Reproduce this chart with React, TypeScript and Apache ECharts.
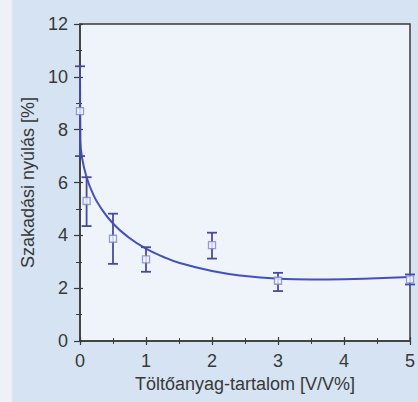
import React, { useEffect, useRef } from "react";
import * as echarts from "echarts";

const xTicks = [0, 1, 2, 3, 4, 5];
const yTicks = [0, 2, 4, 6, 8, 10, 12];

// measured points: x, mean, low, high
const pointX = [0, 0.1, 0.5, 1, 2, 3, 5];
const pointMean = [8.7, 5.3, 3.87, 3.09, 3.63, 2.28, 2.33];
const pointLow = [7.0, 4.35, 2.92, 2.62, 3.12, 1.89, 2.14];
const pointHigh = [10.4, 6.2, 4.82, 3.55, 4.1, 2.58, 2.52];

// fitted curve
const curveX = [0, 0.006, 0.03, 0.1, 0.2, 0.3, 0.5, 0.75, 1.0, 1.25, 1.5, 2.0, 2.5, 3.0, 3.5, 4.0, 4.5, 5.0];
const curveY = [10.0, 7.6, 6.95, 6.2, 5.55, 5.1, 4.45, 3.9, 3.5, 3.2, 2.96, 2.65, 2.46, 2.36, 2.33, 2.34, 2.38, 2.42];

const FONT = "'Liberation Sans', Arial, sans-serif";

export default function App() {
  const ref = useRef<HTMLDivElement>(null);
  useEffect(() => {
    if (!ref.current) return;
    const chart = echarts.init(ref.current, undefined, { renderer: "svg" });
    const axisColor = "#3a3a3a";
    const labelStyle = { fontSize: 18, color: "#383838", fontFamily: FONT };
    const errData = pointX.map((x, i) => [x, pointLow[i], pointHigh[i]]);
    chart.setOption({
      animation: false,
      backgroundColor: "transparent",
      grid: {
        left: 80,
        top: 24,
        width: 331,
        height: 317,
        show: true,
        backgroundColor: "#eff3fa",
        borderColor: axisColor,
        borderWidth: 1.5,
      },
      xAxis: [
        {
          type: "value",
          min: xTicks[0],
          max: xTicks[xTicks.length - 1],
          interval: 1,
          name: "Töltőanyag-tartalom [V/V%]",
          nameLocation: "middle",
          nameGap: 34,
          nameTextStyle: labelStyle,
          axisLine: { lineStyle: { color: axisColor, width: 1.5 } },
          axisTick: { inside: false, length: 4, lineStyle: { color: axisColor, width: 1.2 } },
          minorTick: { show: true, splitNumber: 2, length: 3, lineStyle: { color: axisColor } },
          axisLabel: { ...labelStyle, margin: 11 },
          splitLine: { show: false },
        },
        {
          type: "value",
          min: xTicks[0],
          max: xTicks[xTicks.length - 1],
          interval: 1,
          position: "bottom",
          axisLine: { show: false },
          axisTick: { inside: true, length: 4, lineStyle: { color: axisColor, width: 1.2 } },
          minorTick: { show: true, splitNumber: 2, length: 3, lineStyle: { color: axisColor } },
          axisLabel: { show: false },
          splitLine: { show: false },
        },
      ],
      yAxis: [
        {
          type: "value",
          min: yTicks[0],
          max: yTicks[yTicks.length - 1],
          interval: 2,
          name: "Szakadási nyúlás [%]",
          nameLocation: "middle",
          nameGap: 41,
          nameTextStyle: labelStyle,
          axisLine: { show: true, lineStyle: { color: axisColor, width: 1.5 } },
          axisTick: { show: true, inside: false, length: 6, lineStyle: { color: axisColor, width: 1.2 } },
          minorTick: { show: true, splitNumber: 2, length: 4, lineStyle: { color: axisColor } },
          axisLabel: { ...labelStyle, margin: 12 },
          splitLine: { show: false },
        },
        {
          type: "value",
          min: yTicks[0],
          max: yTicks[yTicks.length - 1],
          interval: 2,
          position: "left",
          axisLine: { show: false },
          axisTick: { show: true, inside: true, length: 3, lineStyle: { color: axisColor, width: 1.2 } },
          minorTick: { show: true, splitNumber: 2, length: 2, lineStyle: { color: axisColor } },
          axisLabel: { show: false },
          splitLine: { show: false },
        },
      ],
      series: [
        {
          type: "line",
          data: curveX.map((x, i) => [x, curveY[i]]),
          showSymbol: false,
          smooth: 0.5,
          lineStyle: { color: "#4250c0", width: 2 },
          z: 3,
        },
        {
          type: "custom",
          data: errData,
          clip: false,
          z: 4,
          renderItem: (params: any, api: any) => {
            const x = api.value(0);
            const lo = api.coord([x, api.value(1)]);
            const hi = api.coord([x, api.value(2)]);
            const cap = 5;
            const style = { stroke: "#4a4a9c", lineWidth: 1.8 };
            return {
              type: "group",
              children: [
                { type: "line", shape: { x1: lo[0], y1: lo[1], x2: hi[0], y2: hi[1] }, style },
                { type: "line", shape: { x1: lo[0] - cap, y1: lo[1], x2: lo[0] + cap, y2: lo[1] }, style },
                { type: "line", shape: { x1: hi[0] - cap, y1: hi[1], x2: hi[0] + cap, y2: hi[1] }, style },
              ],
            };
          },
        },
        {
          type: "scatter",
          data: pointX.map((x, i) => [x, pointMean[i]]),
          symbol: "rect",
          symbolSize: 7,
          clip: false,
          z: 5,
          itemStyle: { color: "#f4f6fc", borderColor: "#7a86cc", borderWidth: 1.3 },
        },
      ],
    });
    return () => chart.dispose();
  }, []);
  return (
    <div
      style={{
        position: "fixed",
        left: 0,
        top: 0,
        width: 418,
        height: 402,
        background: "linear-gradient(to right, #eef2f8 0px, #eef2f8 11px, #d5e3f2 13px, #d5e3f2 100%)",
      }}
    >
      <div ref={ref} style={{ width: 418, height: 402 }} />
    </div>
  );
}
